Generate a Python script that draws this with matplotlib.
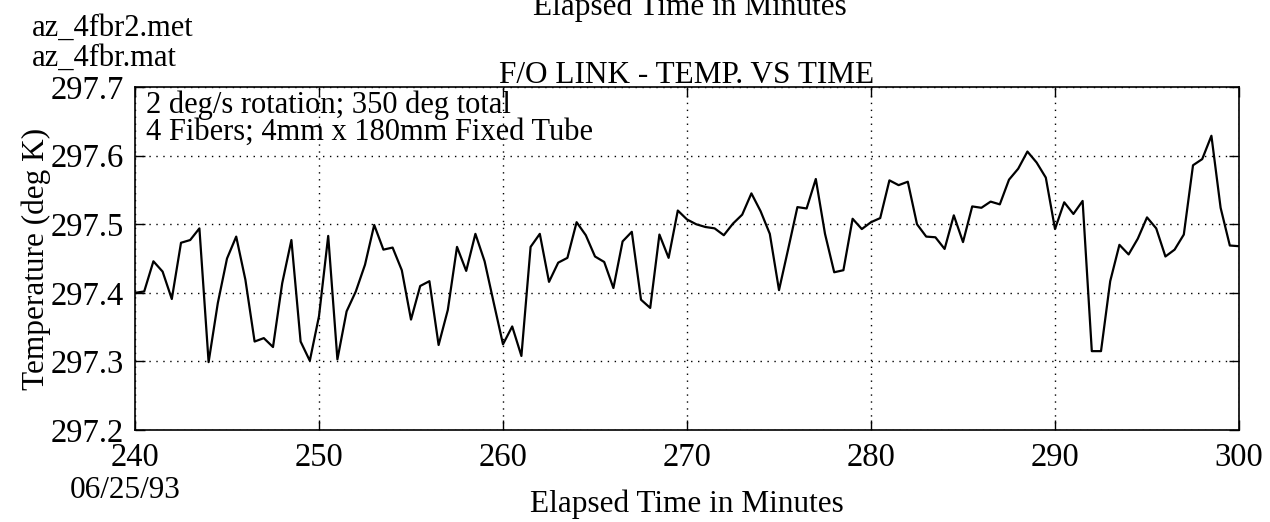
import numpy as np
import matplotlib
matplotlib.use("Agg")
import matplotlib.pyplot as plt

plt.rcParams["font.family"] = ["Liberation Serif", "DejaVu Serif"]

# Elapsed time (minutes), sampled every 30 s
t_start = 240.0
t_step = 0.5

# Temperature readings (deg K)
temp = [
    297.400, 297.402, 297.446, 297.431, 297.391, 297.473, 297.477, 297.494,
    297.299, 297.385, 297.450, 297.482, 297.419, 297.329, 297.334, 297.321,
    297.414, 297.477, 297.329, 297.301, 297.366, 297.483, 297.303, 297.373,
    297.402, 297.441, 297.499, 297.463, 297.466, 297.433, 297.361, 297.410,
    297.417, 297.324, 297.375, 297.467, 297.432, 297.486, 297.446, 297.385,
    297.325, 297.351, 297.308, 297.467, 297.486, 297.416, 297.444, 297.451,
    297.503, 297.484, 297.453, 297.445, 297.407, 297.475, 297.489, 297.390,
    297.378, 297.485, 297.451, 297.520, 297.507, 297.500, 297.496, 297.494,
    297.484, 297.501, 297.514, 297.545, 297.519, 297.486, 297.404, 297.464,
    297.525, 297.523, 297.566, 297.486, 297.430, 297.433, 297.508, 297.493,
    297.503, 297.509, 297.564, 297.557, 297.562, 297.500, 297.482, 297.481,
    297.464, 297.513, 297.474, 297.526, 297.524, 297.533, 297.529, 297.565,
    297.581, 297.606, 297.590, 297.568, 297.493, 297.532, 297.515, 297.534,
    297.315, 297.315, 297.417, 297.470, 297.456, 297.479, 297.510, 297.494,
    297.453, 297.463, 297.485, 297.586, 297.595, 297.629, 297.524, 297.469,
    297.468,
]
minutes = t_start + t_step * np.arange(len(temp))

x_ticks = [240, 250, 260, 270, 280, 290, 300]
y_ticks = [297.2, 297.3, 297.4, 297.5, 297.6, 297.7]

fig = plt.figure(figsize=(12.7, 5.22), dpi=100)
ax = fig.add_axes([0.1063, 0.1762, 0.8693, 0.657])

ax.plot(minutes, temp, color="black", linewidth=1.6)

ax.set_xlim(240, 300)
ax.set_ylim(297.2, 297.7)
ax.set_xticks(x_ticks)
ax.set_yticks(y_ticks)
ax.set_xticklabels([str(v) for v in x_ticks])
ax.set_yticklabels(["%.1f" % v for v in y_ticks])
ax.tick_params(direction="in", length=7, width=1, labelsize=23.5,
               top=True, right=True, colors="black")
ax.tick_params(axis="y", pad=8)
ax.tick_params(axis="x", pad=9)
ax.grid(True, linestyle=(0, (1, 4)), color="black", linewidth=1.0)
for s in ax.spines.values():
    s.set_linewidth(1.2)

ax.set_ylabel("Temperature (deg K)", fontsize=22.5, labelpad=0)
ax.set_xlabel("Elapsed Time in Minutes", fontsize=22.5, labelpad=12)
ax.set_title("F/O LINK - TEMP. VS TIME", fontsize=22.5, pad=3)

ax.text(0.01, 0.99, "2 deg/s rotation; 350 deg total\n4 Fibers; 4mm x 180mm Fixed Tube",
        transform=ax.transAxes, fontsize=22, va="top", ha="left",
        linespacing=0.88)

fig.text(0.055, 1 - 490 / 522, "06/25/93", fontsize=22.5, va="center", ha="left")
fig.text(0.025, 1 - 28 / 522, "az_4fbr2.met", fontsize=22, va="center", ha="left")
fig.text(0.025, 1 - 58 / 522, "az_4fbr.mat", fontsize=22, va="center", ha="left")
fig.text(0.543, 1 - 15 / 522, "Elapsed Time in Minutes", fontsize=22.5,
         va="baseline", ha="center")

fig.savefig("out.png", dpi=100)
